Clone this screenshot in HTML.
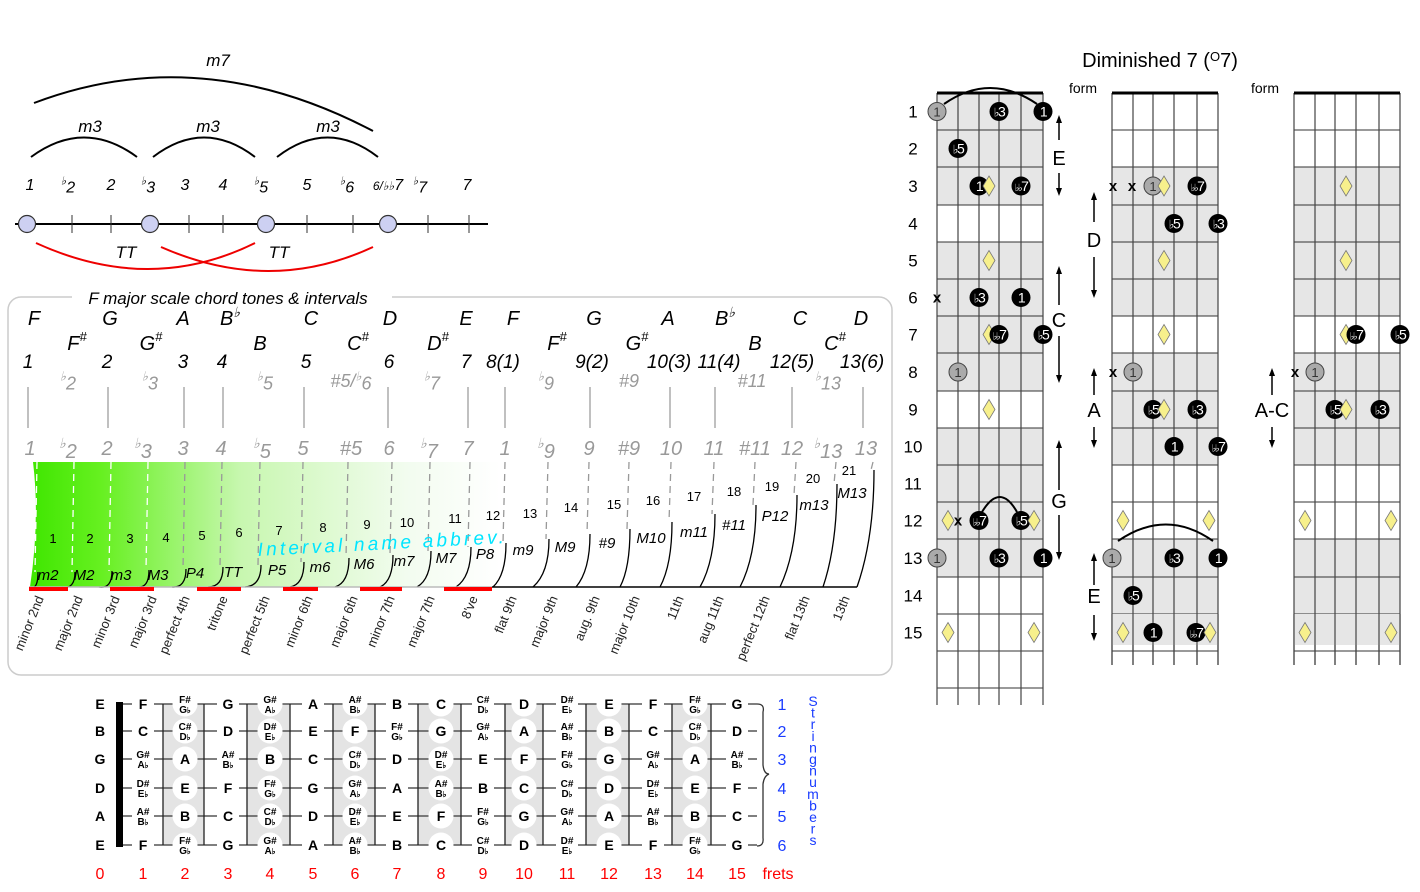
<!DOCTYPE html>
<html><head><meta charset="utf-8">
<style>
html,body{margin:0;padding:0;background:#fff;}
svg{display:block;font-family:"Liberation Sans",sans-serif;}
</style></head>
<body>
<svg id="s" width="1420" height="892" viewBox="0 0 1420 892" xmlns="http://www.w3.org/2000/svg">
<defs>
<linearGradient id="g" x1="0" x2="1" y1="0" y2="0">
<stop offset="0" stop-color="#3fe600"/>
<stop offset="0.15" stop-color="#66f020"/>
<stop offset="0.45" stop-color="#c8f7b0"/>
<stop offset="0.8" stop-color="#f2fcef"/>
<stop offset="1" stop-color="#ffffff"/>
</linearGradient>
</defs>
</svg>
<script>
var o='';
function T(x,y,t,a){o+='<text x="'+x+'" y="'+y+'" '+(a||'')+'>'+t+'</text>';}
function L(x1,y1,x2,y2,a){o+='<line x1="'+x1+'" y1="'+y1+'" x2="'+x2+'" y2="'+y2+'" '+(a||'stroke="#000"')+'/>';}
var fl='<tspan font-size="0.7em" dy="-0.5em">&#9837;</tspan><tspan dy="0.5em">';
function F(s){return fl+s+'</tspan>';}
o+='<path d="M34,103 Q200,40 373,131" fill="none" stroke="#000" stroke-width="2"/>';
T(218,66,'m7','font-style="italic" font-size="17" text-anchor="middle"');
[[31,137,90],[153,255,208],[277,378,328]].forEach(function(a){
o+='<path d="M'+a[0]+',157 Q'+((a[0]+a[1])/2)+',118 '+a[1]+',157" fill="none" stroke="#000" stroke-width="2"/>';
T(a[2],132,'m3','font-style="italic" font-size="17" text-anchor="middle"');});
var tl=[[30,'1'],[68,F('2')],[111,'2'],[148,F('3')],[185,'3'],[223,'4'],[261,F('5')],[307,'5'],[347,F('6')],[388,'<tspan font-size="12">6/&#9837;&#9837;</tspan>7'],[420,F('7')],[467,'7']];
tl.forEach(function(a){T(a[0],190,a[1],'font-style="italic" font-size="16" text-anchor="middle"');});
L(15,224,488,224,'stroke="#000" stroke-width="2"');
[72,111,189,223,307,353,428,469].forEach(function(x){L(x,215,x,233,'stroke="#333"');});
[27,150,266,388].forEach(function(x){o+='<circle cx="'+x+'" cy="224" r="8.5" fill="#cdd0f2" stroke="#333" stroke-width="1.2"/>';});
o+='<path d="M36,243 Q150,295 255,243" fill="none" stroke="#e00" stroke-width="2"/>';
o+='<path d="M161,247 Q270,295 373,247" fill="none" stroke="#e00" stroke-width="2"/>';
T(126,258,'TT','font-style="italic" font-size="17" text-anchor="middle"');
T(279,258,'TT','font-style="italic" font-size="17" text-anchor="middle"');
o+='<rect x="8" y="297" width="884" height="378" rx="13" fill="none" stroke="#ccc" stroke-width="1.5"/>';
o+='<rect x="72" y="288" width="320" height="18" fill="#fff"/>';
T(228,304,'F major scale chord tones &amp; intervals','font-style="italic" font-size="17" text-anchor="middle"');
var it='font-style="italic" text-anchor="middle" ';
var r1=[[34,'F'],[110,'G'],[183,'A'],[230,'B<tspan font-size="14" dy="-8">&#9837;</tspan>'],[311,'C'],[390,'D'],[466,'E'],[513,'F'],[594,'G'],[668,'A'],[725,'B<tspan font-size="14" dy="-8">&#9837;</tspan>'],[800,'C'],[861,'D']];
r1.forEach(function(a){T(a[0],325,a[1],it+'font-size="20"');});
var sh='<tspan font-size="13" dy="-9">#</tspan>';
[[77,'F'],[151,'G'],[260,'B'],[358,'C'],[438,'D'],[557,'F'],[637,'G'],[755,'B'],[835,'C']].forEach(function(a){T(a[0],350,a[1]+(a[1]=='B'?'':sh),it+'font-size="20"');});
[[28,'1'],[107,'2'],[183,'3'],[222,'4'],[306,'5'],[389,'6'],[466,'7'],[503,'8(1)'],[592,'9(2)'],[669,'10(3)'],[719,'11(4)'],[792,'12(5)'],[862,'13(6)']].forEach(function(a){T(a[0],368,a[1],it+'font-size="19"');});
[[68,F('2')],[150,F('3')],[265,F('5')],[351,'#5/'+F('6')],[432,F('7')],[546,F('9')],[629,'#9'],[752,'#11'],[828,F('13')]].forEach(function(a){T(a[0],387,a[1],it+'font-size="18" fill="#999"');});
[28,108,184,223,304,388,468,505,590,670,715,792,863].forEach(function(x){L(x,387,x,428,'stroke="#aaa" stroke-width="1.5"');});
var r5=[[30,'1'],[68,F('2')],[107,'2'],[143,F('3')],[183,'3'],[221,'4'],[262,F('5')],[303,'5'],[351,'#5'],[389,'6'],[429,F('7')],[468,'7'],[505,'1'],[546,F('9')],[589,'9'],[629,'#9'],[671,'10'],[714,'11'],[755,'#11'],[792,'12'],[828,F('13')],[866,'13']];
r5.forEach(function(a){T(a[0],455,a[1],it+'font-size="20" fill="#999"');});
o+='<path d="M33,462 L500,462 L500,587 L30,587 Q40,520 33,462 Z" fill="url(#g)"/>';
var dx=[37,74,111,148,185,222,260,303,348,392,430,470,505,548,589,629,671,714,755,796,836,873];
var tops=[572,572,571,570,569,567,565,562,558,555,551,547,543,539,534,529,522,514,505,495,484,470];
dx.forEach(function(x,i){L(x,462,x-2,tops[i],'stroke="'+(i<4?'#fff':'#999')+'" stroke-width="1.3" stroke-dasharray="7,5"');});
var sb=[31,62,99,137,172,208,245,290,335,380,417,456,493,533,576,620,660,700,740,780,823,857];
sb.forEach(function(x,i){var xt=dx[i]+1,yt=tops[i];
o+='<path d="M'+x+',587 Q'+(xt)+','+((587+yt)/2+10)+' '+xt+','+yt+'" fill="none" stroke="#000" stroke-width="1.3"/>';});
L(29,587,492,587,'stroke="#bbb" stroke-width="1.5"');
L(492,587,857,587,'stroke="#000" stroke-width="1.5"');
[[29,68],[110,154],[197,241],[283,318],[360,402],[444,492]].forEach(function(a){o+='<rect x="'+a[0]+'" y="587" width="'+(a[1]-a[0])+'" height="4" fill="#f00"/>';});
var ab=[[48,'m2',580],[84,'M2',580],[121,'m3',580],[158,'M3',580],[195,'P4',578],[233,'TT',577],[277,'P5',575],[320,'m6',572],[364,'M6',569],[404,'m7',566],[446,'M7',563],[485,'P8',559],[523,'m9',555],[565,'M9',552],[607,'#9',548],[651,'M10',543],[694,'m11',537],[734,'#11',530],[775,'P12',521],[814,'m13',510],[852,'M13',498]];
ab.forEach(function(a){T(a[0],a[2],a[1],it+'font-size="15"');});
var nm=[[53,538],[90,538],[130,538],[166,537],[202,535],[239,532],[279,530],[323,527],[367,524],[407,522],[455,518],[493,515],[530,513],[571,507],[614,504],[653,500],[694,496],[734,491],[772,486],[813,478],[849,470]];
nm.forEach(function(a,i){T(a[0],a[1]+5,i+1,'font-size="13" text-anchor="middle"');});
T(258,556,'Interval name abbrev.','font-style="italic" font-size="19" fill="#00e5ff" letter-spacing="3.2" transform="rotate(-3 258 556)"');
var bl=[[44,'minor 2nd'],[83,'major 2nd'],[120,'minor 3rd'],[157,'major 3rd'],[190,'perfect 4th'],[228,'tritone'],[270,'perfect 5th'],[313,'minor 6th'],[358,'major 6th'],[395,'minor 7th'],[435,'major 7th'],[478,'8\'ve'],[517,'flat 9th'],[558,'major 9th'],[600,'aug. 9th'],[640,'major 10th'],[684,'11th'],[724,'aug 11th'],[770,'perfect 12th'],[810,'flat 13th'],[850,'13th']];
bl.forEach(function(a){T(a[0],598,a[1],'font-size="13" fill="#222" text-anchor="end" transform="rotate(-68 '+a[0]+' 598)"');});
T(1160,67,'Diminished 7 (<tspan font-size="13" dy="-6">O</tspan><tspan dy="6">7)</tspan>','font-size="20" text-anchor="middle"');
T(1083,93,'form','font-size="14" text-anchor="middle"');
T(1265,93,'form','font-size="14" text-anchor="middle"');
var fy=[93];for(var k=1;k<=17;k++)fy.push(Math.round(93+37.2*k));
function rowc(r){return (fy[r-1]+fy[r])/2;}
function board(xs,shade,bottom,nfrets){
 var x0=xs[0],x1=xs[5];
 shade.forEach(function(r){o+='<rect x="'+x0+'" y="'+fy[r-1]+'" width="'+(x1-x0)+'" height="'+(fy[r]-fy[r-1])+'" fill="#e6e6e6"/>';});
 for(var k=1;k<=nfrets;k++)L(x0,fy[k],x1,fy[k],'stroke="#333" stroke-width="1"');
 xs.forEach(function(x){L(x,93,x,bottom,'stroke="#444" stroke-width="1.2"');});
 L(x0,93,x1,93,'stroke="#000" stroke-width="3"');
}
var b1=[937,958,979,999,1021,1043],b2=[1112,1133,1153,1174,1197,1218],b3=[1294,1315,1335,1356,1379,1400];
board(b1,[1,2,3,5,6,7,8,10,11,12,13],705,16);
board(b2,[3,4,5,6,8,9,10,13,14],665,15);
o+='<rect x="1112" y="614" width="106" height="31" fill="#e6e6e6"/>';L(1112,651,1218,651,'stroke="#333"');b2.forEach(function(x){L(x,614,x,665,'stroke="#444" stroke-width="1.2"');});
board(b3,[3,4,5,6,8,9,10,13,14],665,15);
o+='<rect x="1294" y="614" width="106" height="31" fill="#e6e6e6"/>';L(1294,651,1400,651,'stroke="#333"');b3.forEach(function(x){L(x,614,x,665,'stroke="#444" stroke-width="1.2"');});
for(var r=1;r<=15;r++)T(913,rowc(r)+6,r,'font-size="17" text-anchor="middle"');
function D(x,r){var y=rowc(r);o+='<polygon points="'+x+','+(y-10)+' '+(x+6)+','+y+' '+x+','+(y+10)+' '+(x-6)+','+y+'" fill="#f7f08c" stroke="#777" stroke-width="0.8"/>';}
function B(x,r,t){var y=rowc(r);o+='<circle cx="'+x+'" cy="'+y+'" r="9.5" fill="#000"/>';
 var lab=t=='1'?'1':(t=='b3'?'<tspan font-size="12" font-family="DejaVu Sans">&#9837;</tspan>3':(t=='b5'?'<tspan font-size="12" font-family="DejaVu Sans">&#9837;</tspan>5':'<tspan font-size="10" font-family="DejaVu Sans">&#9837;&#9837;</tspan>7'));
 T(x,y+5,lab,'font-size="14" fill="#fff" text-anchor="middle" letter-spacing="-1.5"');}
function G(x,r){var y=rowc(r);o+='<circle cx="'+x+'" cy="'+y+'" r="9" fill="#aaa" stroke="#444" stroke-width="1"/>';T(x,y+5,'1','font-size="13" fill="#333" text-anchor="middle"');}
function X(x,r){T(x,rowc(r)+5,'x','font-size="15" font-weight="bold" text-anchor="middle"');}
G(937,1);B(999,1,'b3');B(1043,1,'1');
o+='<path d="M944,104 Q990,72 1037,104" fill="none" stroke="#000" stroke-width="2"/>';
B(958,2,'b5');B(979,3,'1');D(989,3);B(1021,3,'bb7');
D(989,5);X(937,6);B(979,6,'b3');B(1021,6,'1');
D(989,7);B(999,7,'bb7');B(1043,7,'b5');G(958,8);D(989,9);
D(948,12);X(958,12);B(979,12,'bb7');B(1021,12,'b5');D(1034,12);
o+='<path d="M982,512 Q1000,482 1017,512" fill="none" stroke="#000" stroke-width="2"/>';
G(937,13);B(999,13,'b3');B(1043,13,'1');D(948,15);D(1034,15);
X(1113,3);X(1132,3);G(1153,3);D(1164,3);B(1197,3,'bb7');
B(1174,4,'b5');B(1218,4,'b3');D(1164,5);D(1164,7);
X(1113,8);G(1133,8);B(1153,9,'b5');D(1164,9);B(1197,9,'b3');
B(1174,10,'1');B(1218,10,'bb7');D(1123,12);D(1209,12);
o+='<path d="M1118,541 Q1166,508 1213,541" fill="none" stroke="#000" stroke-width="2"/>';
G(1112,13);B(1174,13,'b3');B(1218,13,'1');B(1133,14,'b5');
D(1123,15);B(1153,15,'1');B(1196,15,'bb7');D(1210,15);
D(1346,3);D(1346,5);D(1346,7);B(1356,7,'bb7');B(1400,7,'b5');
X(1295,8);G(1315,8);B(1335,9,'b5');D(1346,9);B(1380,9,'b3');
D(1305,12);D(1391,12);D(1305,15);D(1391,15);
function AR(x,y1,y2,ly,lab,y3,y4){
 L(x,y1+6,x,y2,'stroke="#000" stroke-width="1.5"');o+='<polygon points="'+x+','+y1+' '+(x-3)+','+(y1+8)+' '+(x+3)+','+(y1+8)+'"/>';
 T(x,ly+7,lab,'font-size="20" text-anchor="middle"');
 L(x,y3,x,y4-6,'stroke="#000" stroke-width="1.5"');o+='<polygon points="'+x+','+y4+' '+(x-3)+','+(y4-8)+' '+(x+3)+','+(y4-8)+'"/>';}
AR(1059,115,140,158,'E',173,196);
AR(1059,266,305,320,'C',336,383);
AR(1059,440,490,501,'G',515,560);
AR(1094,192,222,240,'D',257,298);
AR(1094,368,395,410,'A',427,448);
AR(1094,553,585,596,'E',615,641);
AR(1272,368,395,410,'A-C',427,448);
var sy=[704,731,759,788,816,845];
var fx=[100,143,185,228,270,313,355,397,441,483,524,567,609,653,695,737];
[[163,204],[247,290],[333,375],[418,461],[505,543],[586,629],[672,711]].forEach(function(a){o+='<rect x="'+a[0]+'" y="704" width="'+(a[1]-a[0])+'" height="141" fill="#e4e4e4"/>';});
sy.forEach(function(y){L(119,y,757,y,'stroke="#555" stroke-width="1.5"');});
[163,204,247,290,333,375,418,461,505,543,586,629,672,711].forEach(function(x){L(x,704,x,845,'stroke="#222" stroke-width="1.3"');});
o+='<rect x="116" y="702" width="7" height="145" fill="#000"/>';
var chrom=['C','C#/Db','D','D#/Eb','E','F','F#/Gb','G','G#/Ab','A','A#/Bb','B'];
var open=[4,11,7,2,9,4],openN=['E','B','G','D','A','E'];
var shadedF={2:1,4:1,6:1,8:1,10:1,12:1,14:1};
sy.forEach(function(y,s){
 T(100,y+5,openN[s],'font-size="14" font-weight="bold" text-anchor="middle"');
 for(var f=1;f<=15;f++){var n=chrom[(open[s]+f)%12],x=fx[f];
  if(shadedF[f])o+='<circle cx="'+x+'" cy="'+y+'" r="12.5" fill="#fff"/>';
  else o+='<rect x="'+(x-11)+'" y="'+(y-9)+'" width="22" height="18" fill="#fff"/>';
  if(n.length==1)T(x,y+5,n,'font-size="14" font-weight="bold" text-anchor="middle"');
  else{var p=n.split('/');T(x,y-1,p[0],'font-size="10" font-weight="bold" text-anchor="middle"');T(x,y+9,p[1][0]+'<tspan font-size="8">&#9837;</tspan>','font-size="10" font-weight="bold" text-anchor="middle"');}
 }});
o+='<path d="M757,704 Q765,704 763,712 L763,765 Q764,774 769,774 Q764,776 763,784 L763,838 Q764,846 757,846" fill="none" stroke="#333" stroke-width="1.3"/>';
sy.forEach(function(y,i){T(782,y+6,i+1,'font-size="16" fill="#1a3cff" text-anchor="middle"');});
var sn='Stringnumbers';for(var i=0;i<sn.length;i++)T(813,706+i*11.6,sn[i],'font-size="14" fill="#1a3cff" text-anchor="middle"');
fx.forEach(function(x,i){T(x,879,i,'font-size="16" fill="#f00" text-anchor="middle"');});
T(778,879,'frets','font-size="16" fill="#f00" text-anchor="middle"');
document.getElementById('s').insertAdjacentHTML('beforeend',o);
</script>
</body></html>
